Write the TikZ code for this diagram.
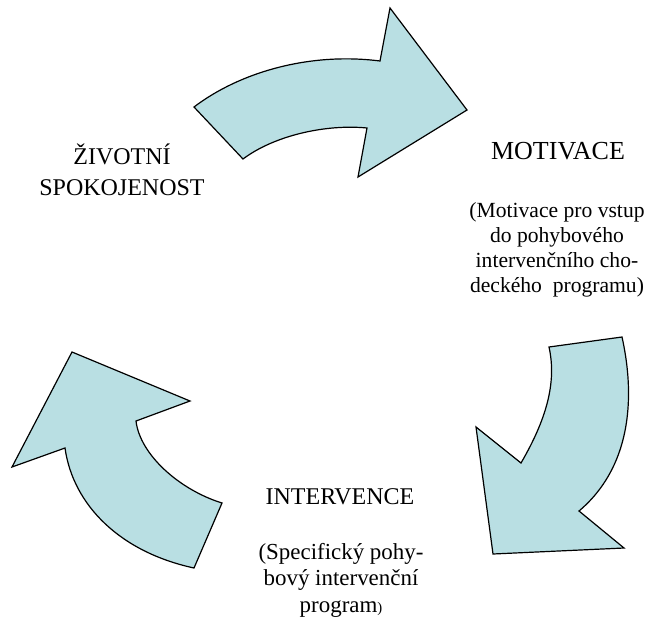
\documentclass[tikz,border=0pt]{standalone}
\usepackage{fontspec}
\setmainfont{Liberation Serif}
\usepackage{tikz}

\definecolor{arrowblue}{RGB}{185,223,227}

\begin{document}
\begin{tikzpicture}[x=0.75pt,y=-0.75pt,
        bluearrow/.style={fill=arrowblue,draw=black,line width=0.9pt,line join=miter},
        heading/.style={align=center,inner sep=0pt,font=\fontsize{18}{23.25}\selectfont},
        remark/.style={align=center,inner sep=0pt}]
        \useasboundingbox (0,0) rectangle (646,629);

        % arrow at the top
        \draw[bluearrow] (194,107) .. controls (240,72) and (310,52) .. (380,61)
            -- (390,8) -- (467,110) -- (358,177) -- (367,128)
            .. controls (327,124) and (275,135) .. (243,159) -- cycle;
        % arrow on the right
        \draw[bluearrow] (549,347) -- (622,337) .. controls (636,400) and (630,468) .. (579,511)
            -- (624,548) -- (493,554) -- (476,427) -- (521,463)
            .. controls (546,420) and (557,383) .. (549,347) -- cycle;
        % arrow on the left
        \draw[bluearrow] (194,568) -- (222,503) .. controls (180,490) and (140,455) .. (136,421)
            -- (190,401) -- (72,352) -- (12,467) -- (65,448)
            .. controls (73,505) and (120,552) .. (194,568) -- cycle;

        \node[heading] (zivot) at (122,170) {ŽIVOTNÍ\\SPOKOJENOST};
        \node[heading,font=\fontsize{19.5}{23}\selectfont] (motiv) at (558,151) {MOTIVACE};
        \node[remark,font=\fontsize{16.2}{18.9}\selectfont] (motivtext) at (557,250)
            {(Motivace pro vstup\\do pohybového\\intervenčního cho-\\deckého\ \ programu)};
        \node[heading] (interv) at (340,497) {INTERVENCE};
        \node[remark,font=\fontsize{17.2}{19.9}\selectfont] (intervtext) at (341,580)
            {(Specifický pohy-\\bový intervenční\\program{\fontsize{11}{11}\selectfont)}};
    \end{tikzpicture}
\end{document}
